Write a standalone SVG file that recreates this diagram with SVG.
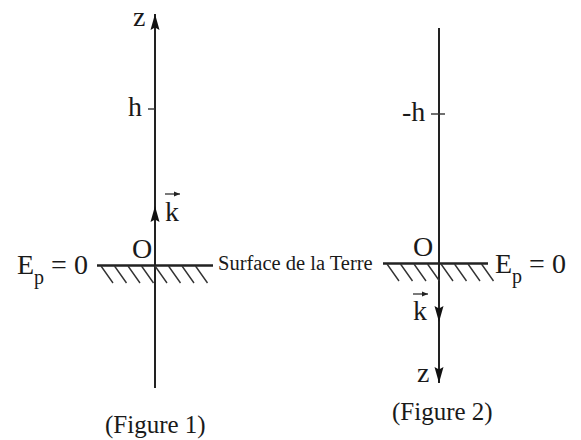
<svg xmlns="http://www.w3.org/2000/svg" width="581" height="440" viewBox="0 0 581 440">
<style>
text{font-family:"Liberation Serif","Times New Roman",serif;fill:#1a1a1a}
.big{font-size:28px}
.lab{font-size:25px}
.axis{stroke:#222;stroke-width:2;fill:none}
.ground{stroke:#222;stroke-width:2.5;fill:none}
.hatch{stroke:#333;stroke-width:1.4;fill:none}
.tick{stroke:#333;stroke-width:1.4}
.vec{stroke:#222;stroke-width:1.2}
</style>
<defs>
<marker id="ah" markerUnits="userSpaceOnUse" markerWidth="20" markerHeight="12" refX="16" refY="5" orient="auto" viewBox="0 0 20 12">
<path d="M0,0.5 L16,5 L0,9.5 L2.5,5 Z" fill="#111"/>
</marker>
<marker id="sm" markerUnits="userSpaceOnUse" markerWidth="8" markerHeight="6" refX="6" refY="3" orient="auto" viewBox="0 0 8 6">
<path d="M0,0.5 L6,3 L0,5.5 Z" fill="#222"/>
</marker>
<path id="hatches" d="M0,0 l12,17 M13.5,0 l12,17 M27,0 l12,17 M40.5,0 l12,17 M54,0 l12,17 M67.5,0 l12,17 M81,0 l12,17 M94.5,0 l12,17"/>
</defs>

<g id="figure1">
<g id="axis1">
<line class="axis" x1="155" y1="388" x2="155" y2="14" marker-end="url(#ah)"/>
<line class="axis" x1="155" y1="240" x2="155" y2="206" marker-end="url(#ah)"/>
<line class="tick" x1="148" y1="109" x2="155" y2="109"/>
</g>
<g id="ground1">
<line class="ground" x1="97" y1="265.5" x2="213" y2="265.5"/>
<use href="#hatches" class="hatch" x="101" y="266"/>
</g>
<text class="big" x="133" y="26">z</text>
<text class="big" x="128" y="116">h</text>
<g id="k1">
<text class="big" x="165" y="221">k</text>
<line class="vec" x1="165" y1="194" x2="180" y2="194" marker-end="url(#sm)"/>
</g>
<text class="big" x="132" y="258">O</text>
<text class="big" x="17" y="274">E<tspan font-size="20" dy="10">p</tspan><tspan dy="-10"> = 0</tspan></text>
<text class="lab" x="105" y="433">(Figure 1)</text>
</g>

<text id="surface" x="218" y="270" font-size="20.5">Surface de la Terre</text>

<g id="figure2">
<g id="axis2">
<line class="axis" x1="439" y1="28" x2="439" y2="383" marker-end="url(#ah)"/>
<line class="axis" x1="439" y1="280" x2="439" y2="322" marker-end="url(#ah)"/>
<line class="tick" x1="431" y1="114" x2="445" y2="114"/>
</g>
<g id="ground2">
<line class="ground" x1="383" y1="263.5" x2="488" y2="263.5"/>
<use href="#hatches" class="hatch" x="387" y="264"/>
</g>
<text class="big" x="402" y="121">-h</text>
<text class="big" x="413" y="256">O</text>
<g id="k2">
<text class="big" x="413" y="320">k</text>
<line class="vec" x1="413" y1="294" x2="428" y2="294" marker-end="url(#sm)"/>
</g>
<text class="big" x="417" y="382">z</text>
<text class="big" x="495" y="273">E<tspan font-size="20" dy="10">p</tspan><tspan dy="-10"> = 0</tspan></text>
<text class="lab" x="392" y="420">(Figure 2)</text>
</g>
</svg>
